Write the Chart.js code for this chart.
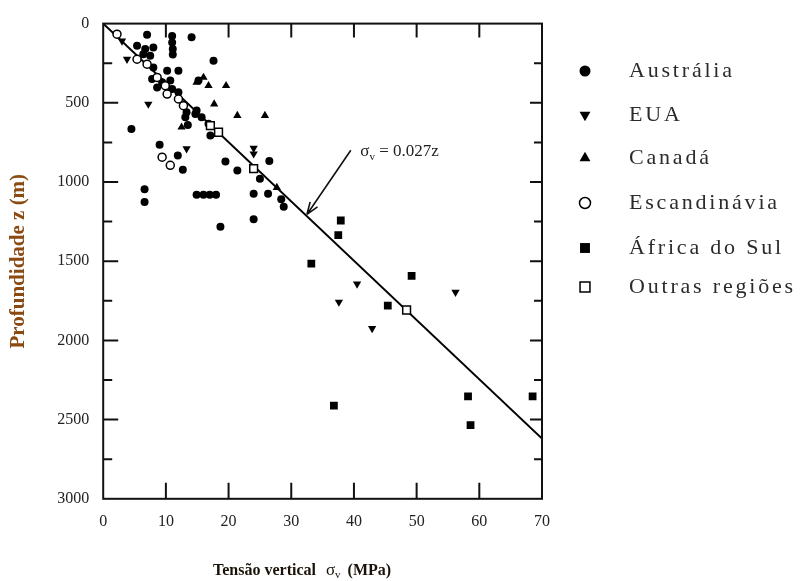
<!DOCTYPE html>
<html>
<head>
<meta charset="utf-8">
<script src="https://cdn.jsdelivr.net/npm/chart.js@4.4.1/dist/chart.umd.min.js"></script>
<style>
  html, body { margin: 0; padding: 0; background: #fff; }
  #wrap { width: 801px; height: 581px; }
</style>
</head>
<body>
<div id="wrap"><canvas id="chart" width="801" height="581"></canvas></div>
<script>
// [tensão vertical (MPa), profundidade (m)]
const australia = [
  [7.0, 71], [11.0, 78], [14.1, 86], [11.0, 120], [11.1, 161], [11.1, 195],
  [5.4, 140], [6.7, 161], [8.0, 151], [6.4, 193], [7.5, 203],
  [8.0, 277], [10.2, 298], [12.0, 298], [7.8, 350], [9.4, 371], [10.7, 360],
  [8.6, 403], [11.0, 413], [12.0, 434], [15.2, 360], [17.6, 235],
  [13.3, 560], [14.7, 571], [15.7, 591], [13.1, 591], [14.9, 549], [16.8, 633],
  [13.5, 640], [17.1, 706], [4.5, 665], [9.0, 765], [11.9, 832], [12.7, 923],
  [6.6, 1046], [6.6, 1126], [14.9, 1080], [16.0, 1080], [17.0, 1080], [18.0, 1080],
  [19.5, 870], [21.4, 927], [26.5, 868], [25.0, 979], [24.0, 1074], [26.3, 1074],
  [28.4, 1109], [28.8, 1157], [18.7, 1283], [24.0, 1235]
];
const eua = [
  [3.0, 110], [3.8, 225], [7.2, 508], [13.3, 790], [24.0, 786], [24.0, 822],
  [40.5, 1643], [56.2, 1695], [37.6, 1758], [42.9, 1925]
];
const canada = [
  [14.9, 371], [16.0, 340], [16.8, 392], [19.6, 392], [17.7, 508],
  [21.4, 581], [25.8, 581], [12.5, 654], [27.7, 1035]
];
const escandinavia = [
  [2.2, 67], [5.4, 225], [7.0, 256], [8.6, 340], [9.9, 392], [10.2, 445],
  [12.0, 476], [12.8, 518], [9.4, 843], [10.7, 895]
];
const africaDoSul = [
  [37.9, 1243], [37.5, 1336], [33.2, 1516], [49.2, 1592], [45.4, 1781],
  [36.8, 2412], [58.2, 2353], [58.6, 2535], [68.5, 2353]
];
const outras = [[17.1, 644], [18.4, 686], [24.0, 916], [48.4, 1808]];

// reta sigma_v = 0.027z
const reta = [[0, 0], [70, 2620]];

const xTicks = [0, 10, 20, 30, 40, 50, 60, 70];
const yTicks = [0, 500, 1000, 1500, 2000, 2500, 3000];

const serif = "'Liberation Serif', 'Times New Roman', serif";
const toXY = arr => arr.map(p => ({ x: p[0], y: p[1] }));

const series = [
  { label: 'Austrália', data: australia, pointStyle: 'circle', rotation: 0, radius: 4, fill: '#000', bw: 0 },
  { label: 'EUA', data: eua, pointStyle: 'triangle', rotation: 180, radius: 4.8, fill: '#000', bw: 0 },
  { label: 'Canadá', data: canada, pointStyle: 'triangle', rotation: 0, radius: 4.8, fill: '#000', bw: 0 },
  { label: 'Escandinávia', data: escandinavia, pointStyle: 'circle', rotation: 0, radius: 4, fill: '#fff', bw: 1.5 },
  { label: 'África do Sul', data: africaDoSul, pointStyle: 'rect', rotation: 0, radius: 5.5, fill: '#000', bw: 0 },
  { label: 'Outras regiões', data: outras, pointStyle: 'rect', rotation: 0, radius: 5.5, fill: '#fff', bw: 1.5 }
];

// open markers first so they are painted on top
const drawOrder = [3, 5, 0, 1, 2, 4];
const datasets = drawOrder.map(i => {
  const s = series[i];
  return {
    label: s.label,
    data: toXY(s.data),
    pointStyle: s.pointStyle,
    rotation: s.rotation,
    pointRadius: s.radius,
    pointHoverRadius: s.radius,
    backgroundColor: s.fill,
    borderColor: '#000',
    borderWidth: s.bw
  };
});
datasets.push({
  type: 'line',
  label: 'σv = 0.027z',
  data: toXY(reta),
  borderColor: '#000',
  borderWidth: 2,
  pointRadius: 0,
  fill: false
});

const decorations = {
  id: 'decorations',
  afterDraw(chart) {
    const { ctx, chartArea: a, scales: { x, y } } = chart;
    ctx.save();
    ctx.strokeStyle = '#111';
    ctx.lineWidth = 2;
    ctx.strokeRect(a.left, a.top, a.right - a.left, a.bottom - a.top);

    // inward tick marks
    ctx.beginPath();
    for (let v = 250; v < 3000; v += 250) {
      const py = y.getPixelForValue(v);
      const major = v % 500 === 0;
      ctx.moveTo(a.left, py); ctx.lineTo(a.left + (major ? 15 : 9), py);
      ctx.moveTo(a.right, py); ctx.lineTo(a.right - (major ? 12 : 8), py);
    }
    for (let v = 10; v < 70; v += 10) {
      const px = x.getPixelForValue(v);
      ctx.moveTo(px, a.bottom); ctx.lineTo(px, a.bottom - 16);
      ctx.moveTo(px, a.top); ctx.lineTo(px, a.top + 14);
    }
    ctx.stroke();

    // annotation arrow
    const tx = x.getPixelForValue(39.5), ty = y.getPixelForValue(800);
    const hx = x.getPixelForValue(32.5), hy = y.getPixelForValue(1205);
    const ang = Math.atan2(hy - ty, hx - tx);
    ctx.lineWidth = 1.6;
    ctx.beginPath();
    ctx.moveTo(tx, ty); ctx.lineTo(hx, hy);
    ctx.moveTo(hx, hy); ctx.lineTo(hx - 13 * Math.cos(ang - 0.35), hy - 13 * Math.sin(ang - 0.35));
    ctx.moveTo(hx, hy); ctx.lineTo(hx - 13 * Math.cos(ang + 0.35), hy - 13 * Math.sin(ang + 0.35));
    ctx.stroke();

    // annotation text
    ctx.fillStyle = '#222';
    ctx.textBaseline = 'alphabetic';
    let ax = x.getPixelForValue(41.0);
    const ab = y.getPixelForValue(800) + 6;
    ctx.font = '17px ' + serif;
    ctx.fillText('σ', ax, ab);
    ax += ctx.measureText('σ').width;
    ctx.font = '11px ' + serif;
    ctx.fillText('v', ax, ab + 4);
    ax += ctx.measureText('v').width;
    ctx.font = '17px ' + serif;
    ctx.fillText(' = 0.027z', ax, ab);

    // x axis title
    const tb = 575;
    let cx = 213;
    ctx.fillStyle = '#1a1208';
    ctx.font = 'bold 16px ' + serif;
    ctx.fillText('Tensão vertical', cx, tb);
    cx += ctx.measureText('Tensão vertical').width + 10;
    ctx.font = '17px ' + serif;
    ctx.fillText('σ', cx, tb);
    cx += ctx.measureText('σ').width;
    ctx.font = '11px ' + serif;
    ctx.fillText('v', cx, tb + 3);
    cx += ctx.measureText('v').width + 7;
    ctx.font = 'bold 16px ' + serif;
    ctx.fillText('(MPa)', cx, tb);

    // legend
    const legendY = [71, 115, 158, 203, 248, 287];
    series.forEach((s, i) => {
      ctx.fillStyle = s.fill;
      ctx.strokeStyle = '#000';
      ctx.lineWidth = 1.5;
      Chart.helpers.drawPoint(ctx, {
        pointStyle: s.pointStyle, rotation: s.rotation,
        radius: s.radius + 1.5, borderWidth: s.bw
      }, 585, legendY[i]);
      ctx.fillStyle = '#2b2b2b';
      ctx.font = '22px ' + serif;
      ctx.letterSpacing = '2.8px';
      ctx.textBaseline = 'middle';
      ctx.fillText(s.label, 629, legendY[i]);
      ctx.letterSpacing = '0px';
    });
    ctx.restore();
  }
};

new Chart(document.getElementById('chart'), {
  type: 'scatter',
  data: { datasets },
  options: {
    responsive: false,
    animation: false,
    devicePixelRatio: 1,
    layout: { padding: { left: 4, right: 259, top: 15, bottom: 37 } },
    plugins: { legend: { display: false }, tooltip: { enabled: false } },
    scales: {
      x: {
        type: 'linear', min: 0, max: 70,
        afterBuildTicks: s => { s.ticks = xTicks.map(v => ({ value: v })); },
        grid: { display: false, drawTicks: false },
        border: { display: false },
        ticks: { padding: 13, color: '#222', font: { family: serif, size: 16 }, callback: v => String(v) }
      },
      y: {
        type: 'linear', min: 0, max: 3000, reverse: true,
        afterBuildTicks: s => { s.ticks = yTicks.map(v => ({ value: v })); },
        grid: { display: false, drawTicks: false },
        border: { display: false },
        ticks: { padding: 14, color: '#222', font: { family: serif, size: 16 }, callback: v => String(v) },
        title: {
          display: true, text: 'Profundidade z (m)', color: '#8a4a12',
          font: { family: serif, size: 21, weight: 'bold' },
          padding: { top: 2, bottom: 12 }
        }
      }
    }
  },
  plugins: [decorations]
});
</script>
</body>
</html>
